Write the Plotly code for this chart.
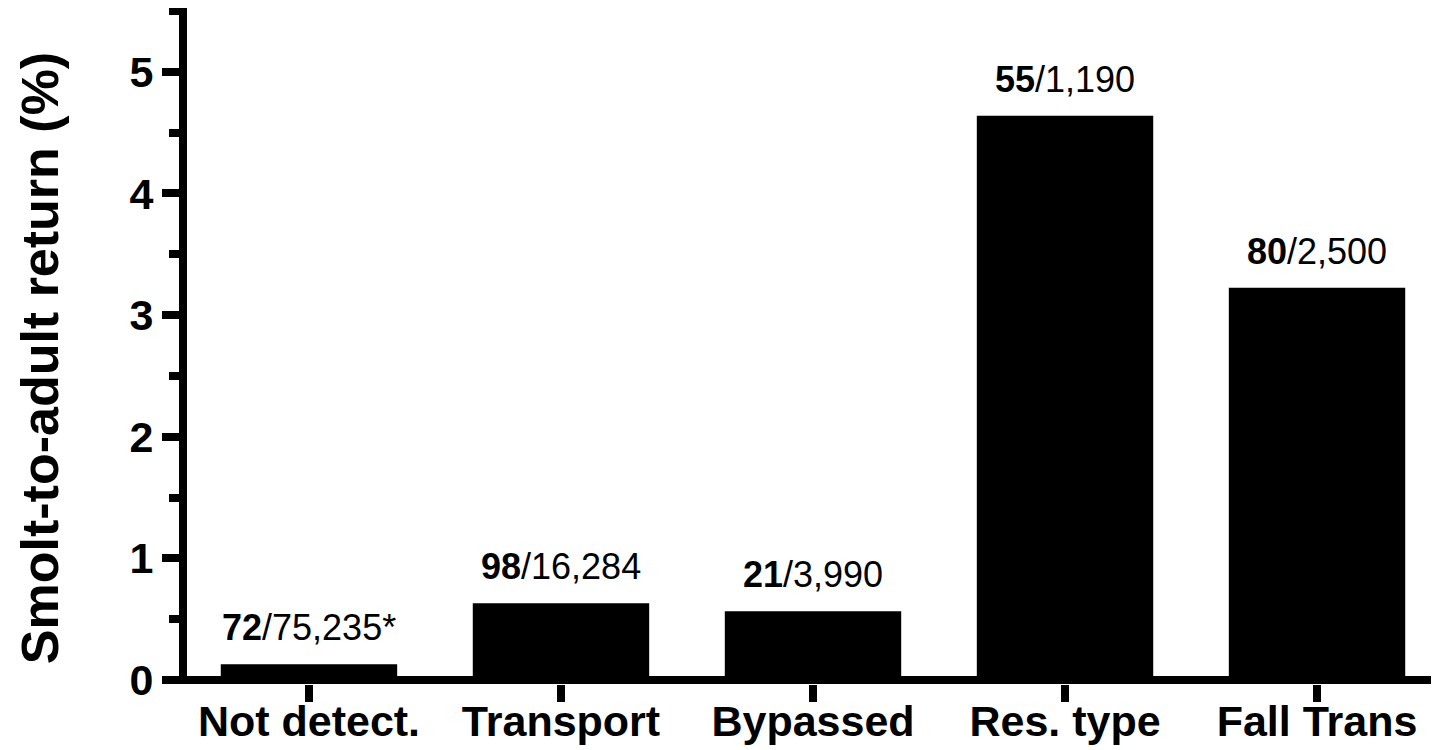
import plotly.graph_objects as go

categories = ["Not detect.", "Transport", "Bypassed", "Res. type", "Fall Trans"]
sar_values = [0.13, 0.63, 0.565, 4.64, 3.225]
returns = ["72", "98", "21", "55", "80"]
released = ["75,235*", "16,284", "3,990", "1,190", "2,500"]
y_ticks = [0, 1, 2, 3, 4, 5]
y_title = "Smolt-to-adult return (%)"

FONT = "Liberation Sans, Arial, sans-serif"

fig = go.Figure()
fig.add_trace(go.Bar(
    x=categories, y=sar_values, width=0.70,
    marker=dict(color="black", line=dict(width=0)),
    showlegend=False,
))

for c, v, r, n in zip(categories, sar_values, returns, released):
    fig.add_annotation(
        x=c, y=v, text=f"<b>{r}</b>/{n}", showarrow=False,
        yanchor="bottom", yshift=14,
        font=dict(family=FONT, size=36, color="black"),
    )

# y-axis title as rotated annotation (placed slightly below plot centre, as in reference)
fig.add_annotation(
    xref="paper", yref="paper", x=-0.1174, y=0.482,
    text=f"<b>{y_title}</b>", textangle=-90, showarrow=False,
    xanchor="center", yanchor="middle",
    font=dict(family=FONT, size=52, color="black"),
)

fig.update_layout(
    width=1431, height=742,
    margin=dict(l=179, r=0, t=0, b=66, autoexpand=False),
    plot_bgcolor="white", paper_bgcolor="white",
    bargap=0.3,
)
fig.update_xaxes(
    type="category", range=[-0.484, 4.484], automargin=False,
    showline=False, showgrid=False, zeroline=False,
    ticks="outside", ticklen=17, tickwidth=8, tickcolor="black",
    ticklabelstandoff=-18,
    tickfont=dict(family=FONT, size=43, color="black", weight="bold"),
)
fig.update_yaxes(
    range=[-0.033, 5.525], automargin=False,
    tickvals=y_ticks,
    showline=True, linewidth=8, linecolor="black",
    showgrid=False,
    zeroline=True, zerolinewidth=8, zerolinecolor="black",
    ticks="outside", ticklen=17, tickwidth=8, tickcolor="black",
    minor=dict(dtick=0.5, tick0=0, ticks="outside", ticklen=10, tickwidth=8,
               tickcolor="black", showgrid=False),
    tickfont=dict(family=FONT, size=43, color="black", weight="bold"),
)

fig.write_html("out.html")
